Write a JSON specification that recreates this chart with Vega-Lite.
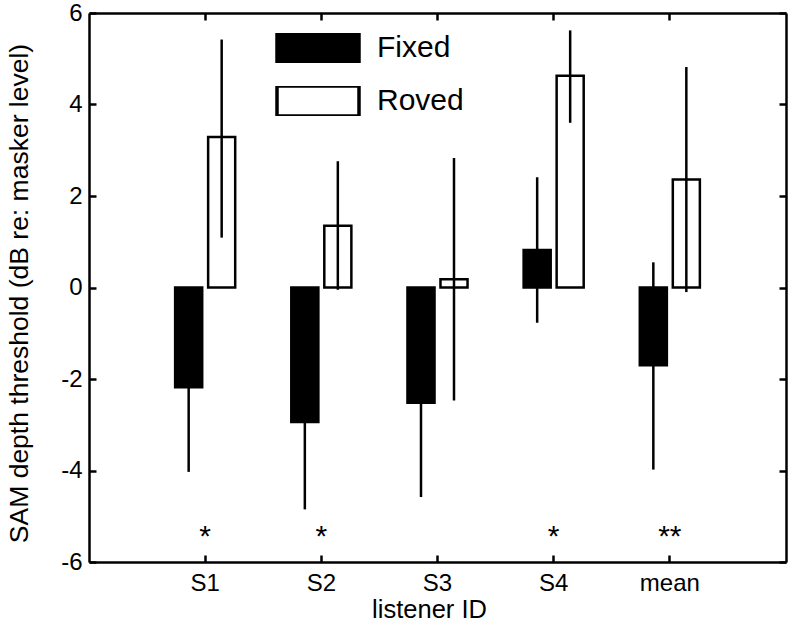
{
  "$schema": "https://vega.github.io/schema/vega-lite/v6.json",
  "width": 697,
  "height": 549,
  "autosize": {"type": "none"},
  "padding": {"left": 89, "top": 13, "right": 14, "bottom": 66},
  "background": "white",
  "config": {
    "font": "Liberation Sans",
    "view": {"stroke": null},
    "axis": {
      "domainColor": "black", "domainWidth": 2.5, "tickColor": "black", "tickWidth": 2.5,
      "labelColor": "black", "titleColor": "black", "grid": false,
      "labelFont": "Liberation Sans", "titleFont": "Liberation Sans", "titleFontWeight": "normal"
    }
  },
  "datasets": {
    "bars": [
      {"listener": "S1", "condition": "Fixed", "value": -2.18, "lo": -4.03, "hi": -0.33},
      {"listener": "S1", "condition": "Roved", "value": 3.29, "lo": 1.09, "hi": 5.42},
      {"listener": "S2", "condition": "Fixed", "value": -2.94, "lo": -4.85, "hi": -1.03},
      {"listener": "S2", "condition": "Roved", "value": 1.35, "lo": -0.05, "hi": 2.76},
      {"listener": "S3", "condition": "Fixed", "value": -2.52, "lo": -4.58, "hi": -0.46},
      {"listener": "S3", "condition": "Roved", "value": 0.18, "lo": -2.47, "hi": 2.83},
      {"listener": "S4", "condition": "Fixed", "value": 0.82, "lo": -0.77, "hi": 2.41},
      {"listener": "S4", "condition": "Roved", "value": 4.63, "lo": 3.6, "hi": 5.62},
      {"listener": "mean", "condition": "Fixed", "value": -1.7, "lo": -3.98, "hi": 0.55},
      {"listener": "mean", "condition": "Roved", "value": 2.36, "lo": -0.1, "hi": 4.82}
    ],
    "stars": [
      {"listener": "S1", "y": -5.3, "sig": "*"},
      {"listener": "S2", "y": -5.3, "sig": "*"},
      {"listener": "S4", "y": -5.3, "sig": "*"},
      {"listener": "mean", "y": -5.3, "sig": "**"}
    ]
  },
  "resolve": {"axis": {"x": "independent", "y": "independent"}},
  "layer": [
    {
      "data": {"name": "bars"},
      "mark": {"type": "bar", "stroke": "black", "strokeWidth": 2.5},
      "encoding": {
        "x": {
          "field": "listener", "type": "nominal", "sort": ["S1", "S2", "S3", "S4", "mean"],
          "scale": {"paddingInner": 0, "paddingOuter": 0.5},
          "axis": {"orient": "bottom", "labelAngle": 0, "labelFontSize": 24, "tickSize": -7, "labelPadding": 16,
                   "title": "listener ID", "titleFontSize": 25.5, "titleX": 340, "titleY": 35, "titleBaseline": "top"}
        },
        "xOffset": {"field": "condition", "type": "nominal", "scale": {"paddingInner": 0.18, "paddingOuter": 0.85}},
        "y": {
          "field": "value", "type": "quantitative",
          "scale": {"domain": [-6, 6], "nice": false, "zero": false},
          "axis": {"orient": "left", "values": [-6, -4, -2, 0, 2, 4, 6], "labelExpr": "'' + datum.value",
                   "labelFontSize": 24, "tickSize": -7, "labelPadding": 14,
                   "title": "SAM depth threshold (dB re: masker level)", "titleFontSize": 26.5, "titleX": -56, "titleY": 280}
        },
        "y2": {"datum": 0},
        "fill": {
          "field": "condition", "type": "nominal",
          "scale": {"domain": ["Fixed", "Roved"], "range": ["black", "white"]},
          "legend": {
            "orient": "none", "legendX": 186, "legendY": 20, "title": null, "padding": 0,
            "symbolType": "M-1,-0.366H1V0.366H-1Z", "symbolSize": 6724, "clipHeight": 30, "rowPadding": 23,
            "labelFontSize": 30, "labelOffset": 16, "labelColor": "black",
            "symbolStrokeColor": "black", "symbolStrokeWidth": 3.5
          }
        }
      }
    },
    {
      "data": {"name": "bars"},
      "mark": {"type": "rule", "color": "black", "strokeWidth": 2.5},
      "encoding": {
        "x": {"field": "listener", "type": "nominal", "sort": ["S1", "S2", "S3", "S4", "mean"],
              "axis": {"orient": "top", "labels": false, "tickSize": -7, "title": null}},
        "xOffset": {"field": "condition", "type": "nominal"},
        "y": {"field": "lo", "type": "quantitative",
              "axis": {"orient": "right", "values": [-6, -4, -2, 0, 2, 4, 6], "tickSize": -7, "labels": false, "title": null}},
        "y2": {"field": "hi"}
      }
    },
    {
      "data": {"name": "stars"},
      "mark": {"type": "text", "fontSize": 30, "baseline": "alphabetic", "dy": 16, "color": "black"},
      "encoding": {
        "x": {"field": "listener", "type": "nominal", "sort": ["S1", "S2", "S3", "S4", "mean"], "axis": null},
        "y": {"field": "y", "type": "quantitative", "axis": null},
        "text": {"field": "sig"}
      }
    }
  ]
}
